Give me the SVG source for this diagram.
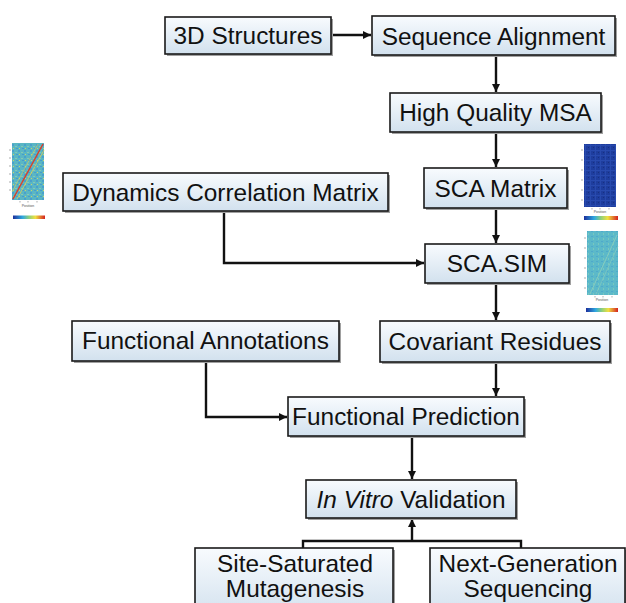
<svg xmlns="http://www.w3.org/2000/svg" width="626" height="603" viewBox="0 0 626 603">
<defs>
<linearGradient id="boxfill" x1="0" y1="0" x2="0" y2="1">
<stop offset="0" stop-color="#f8fbfe"/>
<stop offset="1" stop-color="#d2e1ee"/>
</linearGradient>
<linearGradient id="cbar" x1="0" y1="0" x2="1" y2="0">
<stop offset="0" stop-color="#1c2f9c"/>
<stop offset="0.3" stop-color="#2fa8e0"/>
<stop offset="0.5" stop-color="#8fd07a"/>
<stop offset="0.7" stop-color="#f0e040"/>
<stop offset="1" stop-color="#d42020"/>
</linearGradient>
<pattern id="noiseA" width="6" height="6" patternUnits="userSpaceOnUse">
<rect width="6" height="6" fill="#5ab6c4"/>
<rect x="0" y="0" width="2" height="2" fill="#4aa0cc"/>
<rect x="3" y="2" width="2" height="1" fill="#86c8b2"/>
<rect x="1" y="4" width="1" height="1" fill="#c9d36a"/>
<rect x="4" y="4" width="2" height="1" fill="#479bcc"/>
</pattern>
<pattern id="noiseB" width="5" height="5" patternUnits="userSpaceOnUse">
<rect width="5" height="5" fill="#1e3d9e"/>
<rect x="0" y="0" width="5" height="1" fill="#284aae"/>
<rect x="0" y="0" width="1" height="5" fill="#284aae"/>
<rect x="3" y="2" width="1" height="1" fill="#173080"/>
</pattern>
<pattern id="noiseC" width="5" height="5" patternUnits="userSpaceOnUse">
<rect width="5" height="5" fill="#5cb9c9"/>
<rect x="1" y="1" width="2" height="1" fill="#4fa9cb"/>
<rect x="3" y="3" width="1" height="2" fill="#78c7bf"/>
</pattern>
<marker id="arr" viewBox="0 0 10 10" refX="10" refY="5" markerWidth="3.4" markerHeight="3.4" orient="auto" markerUnits="strokeWidth">
<path d="M0,0 L10,5 L0,10 z" fill="#111"/>
</marker>
</defs>
<style>
.box{fill:url(#boxfill);stroke:#1a1a1a;stroke-width:1.6}
.sh{fill:#a0a0a0}
.lbl{font-family:"Liberation Sans",Arial,sans-serif;font-size:24.4px;fill:#111;text-anchor:middle}
.con{fill:none;stroke:#111;stroke-width:2.4}
.tiny{font-family:"Liberation Sans",Arial,sans-serif;font-size:3.5px;fill:#555;text-anchor:middle}
.tick{stroke:#777;stroke-width:0.6}
</style>
<rect width="626" height="603" fill="#ffffff"/>

<g id="heatmap-left">
<rect x="12" y="143" width="32" height="57" fill="url(#noiseA)"/>
<line x1="13" y1="199" x2="43" y2="144" stroke="#d8402a" stroke-width="1.5"/>
<line x1="17" y1="199" x2="44" y2="150" stroke="#e0cf50" stroke-width="0.8"/>
<line x1="12" y1="192" x2="38" y2="144" stroke="#e0cf50" stroke-width="0.6"/>
<path class="tick" d="M9,150h2M9,158h2M9,166h2M9,174h2M9,182h2M9,190h2M20,201v1.5M28,201v1.5M37,201v1.5"/>
<text class="tiny" x="28" y="207">Position</text>
<rect x="13" y="215.5" width="32" height="3.5" fill="url(#cbar)"/>
</g>

<g id="heatmap-right-top">
<rect x="584" y="144" width="32" height="63" fill="url(#noiseB)"/>
<path class="tick" d="M581,150h2M581,160h2M581,170h2M581,180h2M581,190h2M581,200h2M592,208v1.5M600,208v1.5M609,208v1.5"/>
<text class="tiny" x="600" y="213">Position</text>
<rect x="584" y="216" width="34" height="4" fill="url(#cbar)"/>
</g>

<g id="heatmap-right-bottom">
<rect x="587" y="231" width="31" height="64" fill="url(#noiseC)"/>
<line x1="590" y1="294" x2="617" y2="235" stroke="#86ccbe" stroke-width="1"/>
<line x1="596" y1="294" x2="618" y2="246" stroke="#86ccbe" stroke-width="0.7"/>
<path class="tick" d="M584,238h2M584,248h2M584,258h2M584,268h2M584,278h2M584,288h2M595,296v1.5M603,296v1.5M612,296v1.5"/>
<text class="tiny" x="602" y="301">Position</text>
<rect x="586" y="308" width="32" height="4" fill="url(#cbar)"/>
</g>

<g id="connectors">
<path class="con" d="M331,35 H371" marker-end="url(#arr)"/>
<path class="con" d="M496,55 V92" marker-end="url(#arr)"/>
<path class="con" d="M496,132 V167" marker-end="url(#arr)"/>
<path class="con" d="M496,208 V243" marker-end="url(#arr)"/>
<path class="con" d="M224,211 V263 H424" marker-end="url(#arr)"/>
<path class="con" d="M496,283 V320" marker-end="url(#arr)"/>
<path class="con" d="M496,362 V396" marker-end="url(#arr)"/>
<path class="con" d="M206,361 V417 H287" marker-end="url(#arr)"/>
<path class="con" d="M412,436 V479" marker-end="url(#arr)"/>
<path class="con" d="M303,548 V541 H521 V548"/>
<path class="con" d="M412,541 V519" marker-end="url(#arr)"/>
</g>

<g id="n-3d-structures">
<rect class="sh" x="167" y="19" width="166" height="37"/>
<rect class="box" x="165" y="17" width="166" height="37"/>
<text class="lbl" x="248" y="44">3D Structures</text>
</g>
<g id="n-sequence-alignment">
<rect class="sh" x="374" y="18" width="243" height="39"/>
<rect class="box" x="372" y="16" width="243" height="39"/>
<text class="lbl" x="493.5" y="44.5">Sequence Alignment</text>
</g>
<g id="n-high-quality-msa">
<rect class="sh" x="392" y="95" width="211" height="39"/>
<rect class="box" x="390" y="93" width="211" height="39"/>
<text class="lbl" x="495.5" y="121">High Quality MSA</text>
</g>
<g id="n-sca-matrix">
<rect class="sh" x="426" y="170" width="143" height="40"/>
<rect class="box" x="424" y="168" width="143" height="40"/>
<text class="lbl" x="495.5" y="196.5">SCA Matrix</text>
</g>
<g id="n-dynamics-correlation-matrix">
<rect class="sh" x="65" y="175" width="325" height="38"/>
<rect class="box" x="63" y="173" width="325" height="38"/>
<text class="lbl" x="225.5" y="201">Dynamics Correlation Matrix</text>
</g>
<g id="n-sca-sim">
<rect class="sh" x="427" y="246" width="144" height="39"/>
<rect class="box" x="425" y="244" width="144" height="39"/>
<text class="lbl" x="497" y="272">SCA.SIM</text>
</g>
<g id="n-functional-annotations">
<rect class="sh" x="74" y="323" width="267" height="40"/>
<rect class="box" x="72" y="321" width="267" height="40"/>
<text class="lbl" x="205.5" y="349">Functional Annotations</text>
</g>
<g id="n-covariant-residues">
<rect class="sh" x="382" y="323" width="230" height="41"/>
<rect class="box" x="380" y="321" width="230" height="41"/>
<text class="lbl" x="495" y="350">Covariant Residues</text>
</g>
<g id="n-functional-prediction">
<rect class="sh" x="290" y="399" width="236" height="39"/>
<rect class="box" x="288" y="397" width="236" height="39"/>
<text class="lbl" x="406" y="425">Functional Prediction</text>
</g>
<g id="n-in-vitro-validation">
<rect class="sh" x="308" y="482" width="210" height="38"/>
<rect class="box" x="306" y="480" width="210" height="38"/>
<text class="lbl" x="411" y="507.5"><tspan font-style="italic">In Vitro</tspan> Validation</text>
</g>
<g id="n-site-saturated-mutagenesis">
<rect class="sh" x="197" y="550" width="198" height="70"/>
<rect class="box" x="195" y="548" width="198" height="70"/>
<text class="lbl" x="295" y="572">Site-Saturated</text>
<text class="lbl" x="295" y="597">Mutagenesis</text>
</g>
<g id="n-next-generation-sequencing">
<rect class="sh" x="432" y="550" width="195" height="70"/>
<rect class="box" x="430" y="548" width="195" height="70"/>
<text class="lbl" x="528" y="572">Next-Generation</text>
<text class="lbl" x="528" y="597">Sequencing</text>
</g>
</svg>
